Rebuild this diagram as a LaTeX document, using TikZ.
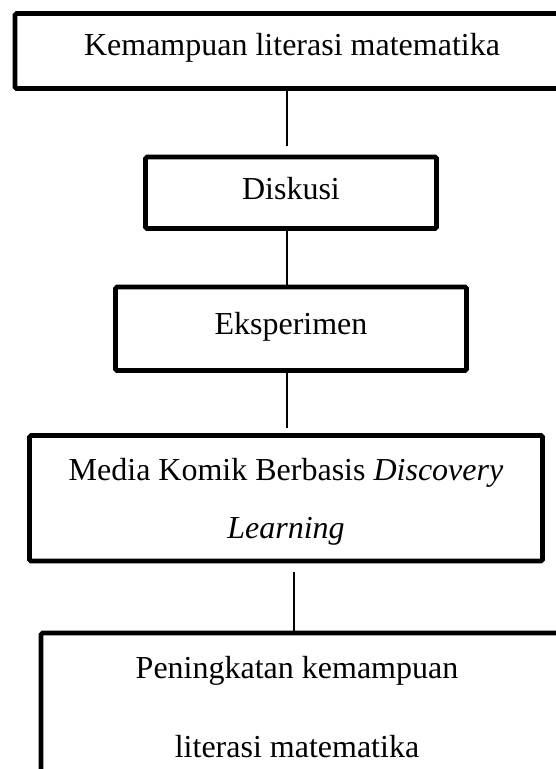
\documentclass[tikz,border=0pt]{standalone}
\usepackage{fontspec}
\setmainfont{Liberation Serif}
\newcommand{\offline}[1]{\makebox[539pt][l]{\makebox[512pt][c]{#1}}}
\begin{document}
\begin{tikzpicture}[x=1pt,y=-1pt,
  box/.style={draw, line width=4.6pt, rounded corners=1.5pt, inner sep=0pt,
    font=\fontsize{32}{38}\selectfont, align=center},
  conn/.style={draw, line width=1.3pt}]
\useasboundingbox (0,0) rectangle (556,769);
\node[box, minimum width=554pt, minimum height=75pt, text height=20pt, text depth=12pt] (b1) at (292,51) {Kemampuan literasi matematika};
\node[box, minimum width=291pt, minimum height=71.5pt, text height=22pt, text depth=9.5pt] (b2) at (291,192.75) {Diskusi};
\node[box, minimum width=351pt, minimum height=83.5pt, text height=22pt, text depth=11.5pt] (b3) at (291,328.75) {Eksperimen};
\node[box, minimum width=513pt, minimum height=125.5pt, text height=88pt, text depth=8.5pt,
  font=\fontsize{32}{58}\selectfont] (b4) at (286,498.25) {Media Komik Berbasis \textit{Discovery}\\\textit{Learning}};
\node[box, minimum width=539pt, minimum height=197pt, text height=101pt, text depth=50pt,
  font=\fontsize{32}{79}\selectfont] (b5) at (310.5,731.5) {\offline{Peningkatan kemampuan}\\\offline{literasi matematika}};
\coordinate (cx) at (287,0);
\coordinate (cy) at (294,0);
\draw[conn, shorten >=8.5pt] (b1.south -| cx) -- (b2.north -| cx);
\draw[conn] (b2.south -| cx) -- (b3.north -| cx);
\draw[conn, shorten >=5pt] (b3.south -| cx) -- (b4.north -| cx);
\draw[conn, shorten <=8.5pt] (b4.south -| cy) -- (b5.north -| cy);
\end{tikzpicture}
\end{document}
